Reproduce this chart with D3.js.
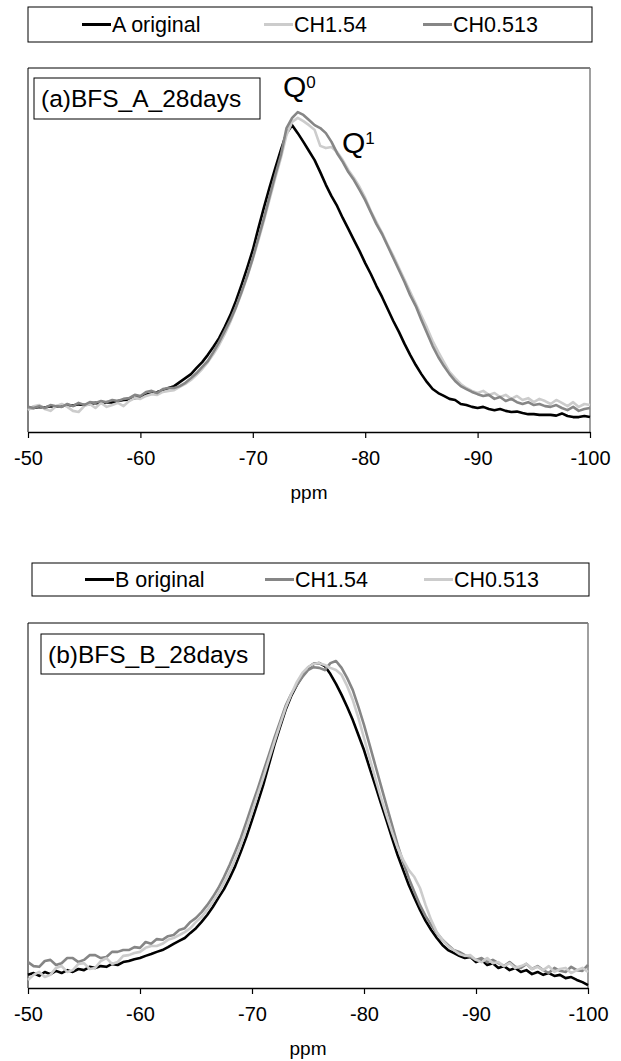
<!DOCTYPE html>
<html>
<head>
<meta charset="utf-8">
<script src="https://cdn.jsdelivr.net/npm/d3@7"></script>
<style>
  body { margin: 0; background: #fff; }
  svg { display: block; font-family: Arial, "Liberation Sans", sans-serif; }
</style>
</head>
<body>
<div id="container"></div>
<script>
/* DATA */
// chemical shift grid, -50 to -100 ppm every 0.5 ppm
const ppm = d3.range(-50, -100.25, -0.5);
const xTicks = [-50, -60, -70, -80, -90, -100];
const xTickLabels = ["-50", "-60", "-70", "-80", "-90", "-100"];

const namesA = ["A original", "CH1.54", "CH0.513"];
const namesB = ["B original", "CH1.54", "CH0.513"];

// panel (a), relative intensity
const aOriginal = [6.6,6.6,6.9,6.7,7.1,7.0,7.1,7.4,7.3,7.6,
  7.4,7.7,8.0,7.8,8.2,8.1,8.5,8.8,8.9,9.3,
  9.6,10.2,10.6,11.0,11.5,12.1,12.6,13.7,14.8,15.9,
  17.6,19.2,21.2,23.4,25.8,28.8,32.1,36.0,40.4,45.1,
  50.0,56.0,61.8,67.3,72.5,77.5,82.1,84.3,82.1,79.7,
  77.2,74.7,71.4,67.9,64.8,62.1,58.8,55.8,52.7,49.7,
  46.4,43.4,40.1,37.1,33.8,30.5,27.5,24.2,21.2,18.4,
  15.9,13.7,11.8,10.7,9.9,9.1,8.8,7.7,7.4,6.9,
  6.6,6.9,6.3,6.0,6.3,5.8,5.5,5.6,5.2,4.9,
  4.9,4.7,4.7,4.7,4.5,5.1,4.4,4.1,4.1,4.4,
  4.1];
const aCH154 = [6.0,7.1,7.4,6.3,5.8,7.1,7.7,6.9,5.8,5.5,
  7.1,7.7,6.6,8.0,6.9,7.4,8.0,7.1,8.5,9.3,
  9.1,9.9,10.4,10.2,11.0,11.3,11.5,12.4,13.2,14.3,
  15.7,17.3,19.2,21.4,23.9,26.9,30.2,34.1,38.2,42.6,
  47.5,52.7,58.2,64.0,69.8,75.3,81.6,85.2,86.3,85.4,
  84.3,83.0,78.6,78.0,78.3,76.9,74.7,72.0,69.8,67.3,
  64.3,60.7,57.7,54.7,51.4,48.4,45.1,41.8,38.5,35.2,
  31.9,28.6,25.0,22.0,19.2,16.5,14.8,13.2,12.1,11.3,
  10.7,11.3,10.2,10.7,9.6,10.2,9.1,9.9,8.8,9.3,
  8.2,9.1,8.5,7.7,8.8,8.0,7.1,8.2,6.9,7.7,
  7.4];
const aCH0513 = [6.9,6.6,7.1,6.6,7.4,7.1,6.9,7.7,7.1,8.0,
  7.4,8.2,8.0,8.5,8.2,8.8,8.5,9.1,9.3,10.2,
  9.9,11.0,11.3,10.7,11.8,12.1,12.1,12.6,13.5,14.8,
  16.2,17.9,19.5,22.0,24.7,27.7,30.8,34.3,38.5,42.9,
  47.8,53.3,58.8,64.8,70.6,76.1,83.5,86.3,87.9,87.1,
  85.7,84.3,83.5,82.1,79.7,76.6,74.2,71.4,69.2,66.5,
  63.7,60.4,57.1,54.4,51.1,47.8,44.5,41.2,37.6,34.6,
  30.8,27.2,23.6,20.6,18.1,15.9,14.0,12.6,11.8,11.0,
  10.4,9.9,10.2,9.1,9.6,8.5,9.1,8.2,7.7,8.2,
  7.4,7.7,7.1,6.9,7.4,6.6,6.0,6.9,5.8,6.3,
  6.6];

// panel (b), relative intensity
const bOriginal = [3.6,4.1,3.3,4.4,3.8,4.7,4.1,4.9,4.4,5.2,
  4.9,5.8,5.5,6.0,5.8,6.6,6.3,7.1,7.4,7.9,
  8.2,8.8,9.3,9.9,10.4,11.2,12.1,12.9,13.7,15.1,
  16.4,18.1,20.0,22.2,24.7,27.1,30.1,33.4,37.3,41.4,
  46.0,50.7,55.6,61.1,66.6,71.5,76.2,80.0,83.0,85.5,
  87.7,88.8,89.0,88.2,86.0,83.3,80.3,77.0,73.4,69.3,
  65.2,60.3,55.6,50.7,46.0,41.1,36.4,32.3,28.2,24.7,
  21.4,18.4,15.9,13.7,11.8,10.4,9.6,8.8,8.2,8.5,
  7.1,7.7,6.3,6.8,5.5,6.0,4.9,5.5,4.4,4.9,
  3.8,4.4,3.6,4.1,3.3,3.6,2.7,3.0,2.2,1.6,
  0.8];
const bCH154 = [7.1,6.0,5.8,7.4,7.7,6.3,6.8,8.2,8.2,7.1,
  7.7,9.0,9.0,8.2,8.5,9.9,9.9,10.4,10.4,11.2,
  11.0,12.6,12.1,13.4,13.2,14.2,14.5,15.9,16.4,18.1,
  19.2,20.8,22.7,24.9,27.4,30.4,33.7,37.3,41.1,45.5,
  50.1,54.5,59.2,63.8,68.5,72.9,77.3,80.5,83.0,85.2,
  87.1,87.9,87.7,87.1,89.0,89.6,87.7,84.9,81.6,77.0,
  72.1,66.6,61.1,55.6,50.1,44.7,39.2,34.5,30.1,26.3,
  22.7,19.7,17.3,15.1,13.2,11.8,10.4,9.9,9.0,8.5,
  7.7,8.2,7.1,7.7,6.8,6.0,7.1,5.8,5.5,6.6,
  5.2,6.0,4.9,4.1,5.5,4.7,4.4,5.8,4.9,4.7,
  6.3];
const bCH0513 = [2.2,3.6,4.4,3.0,3.6,5.5,6.0,4.4,4.9,6.6,
  6.8,5.2,5.5,7.4,8.2,6.6,7.1,8.8,9.0,9.6,
  9.9,11.0,11.5,11.5,12.1,13.2,13.7,14.5,15.3,16.4,
  18.1,19.5,21.4,23.6,26.0,28.8,31.8,35.3,39.2,43.6,
  48.2,52.9,57.5,62.5,67.4,72.1,76.7,80.5,83.8,86.3,
  87.9,88.8,89.0,88.5,87.7,87.1,85.8,82.7,78.9,74.0,
  68.5,63.0,57.5,52.3,47.4,42.7,38.4,35.1,32.3,30.4,
  27.4,22.7,18.6,15.3,13.2,11.5,10.4,9.3,8.8,9.0,
  7.7,7.1,8.2,6.8,7.1,6.0,6.8,5.5,6.0,6.6,
  5.2,5.8,4.9,6.0,4.4,5.2,5.5,4.1,4.9,5.5,
  4.4];

/* CONSTANTS AND GLOBALS */
const width = 621,
  height = 1061,
  black = "#000000",
  midGray = "#868686",
  lightGray = "#cccccc";

const panels = [
  {
    frame: { left: 28, right: 590, top: 68, bottom: 432 },
    legend: { x: 28, y: 7, w: 564, h: 35, lineX: [82, 264, 423] },
    label: { x: 34, y: 78, w: 226, h: 41, text: "(a)BFS_A_28days" },
    series: [
      { name: namesA[0], values: aOriginal, color: black },
      { name: namesA[1], values: aCH154, color: lightGray },
      { name: namesA[2], values: aCH0513, color: midGray }
    ],
    q: true
  },
  {
    frame: { left: 28, right: 588, top: 623, bottom: 988 },
    legend: { x: 32, y: 563, w: 557, h: 33, lineX: [85, 265, 424] },
    label: { x: 41, y: 634, w: 223, h: 40, text: "(b)BFS_B_28days" },
    series: [
      { name: namesB[0], values: bOriginal, color: black },
      { name: namesB[1], values: bCH154, color: midGray },
      { name: namesB[2], values: bCH0513, color: lightGray }
    ],
    q: false
  }
];

//CREATE SVG
const svg = d3.select("#container")
  .append("svg")
  .attr("width", width)
  .attr("height", height);

panels.forEach(p => {
  const f = p.frame;

  //SCALES
  const xScale = d3.scaleLinear()
    .domain([-50, -100])
    .range([f.left, f.right]);

  const yScale = d3.scaleLinear()
    .domain([0, 100])
    .range([f.bottom, f.top]);

  const g = svg.append("g");

  //LEGEND
  g.append("rect")
    .attr("x", p.legend.x)
    .attr("y", p.legend.y)
    .attr("width", p.legend.w)
    .attr("height", p.legend.h)
    .attr("fill", "#fff")
    .attr("stroke", "#000")
    .attr("stroke-width", 1);

  const midY = p.legend.y + p.legend.h / 2;
  p.series.forEach((s, i) => {
    const lx = p.legend.lineX[i];
    g.append("line")
      .attr("x1", lx)
      .attr("x2", lx + 29)
      .attr("y1", midY)
      .attr("y2", midY)
      .attr("stroke", s.color)
      .attr("stroke-width", 3);
    g.append("text")
      .attr("x", lx + 30)
      .attr("y", midY + 7.5)
      .style("font-size", "21.5px")
      .attr("fill", "#000")
      .text(s.name);
  });

  //PLOT FRAME
  g.append("line")
    .attr("x1", f.left).attr("x2", f.right)
    .attr("y1", f.top).attr("y2", f.top)
    .attr("stroke", "#000");
  g.append("line")
    .attr("x1", f.left).attr("x2", f.left)
    .attr("y1", f.top).attr("y2", f.bottom)
    .attr("stroke", "#000");
  g.append("line")
    .attr("x1", f.right).attr("x2", f.right)
    .attr("y1", f.top).attr("y2", f.bottom)
    .attr("stroke", "#808080")
    .attr("stroke-width", 1.5);

  //LINES (series order, later ones on top)
  const line = d3.line()
    .x((d, i) => xScale(ppm[i]))
    .y(d => yScale(d));

  p.series.forEach(s => {
    g.append("path")
      .datum(s.values)
      .attr("fill", "none")
      .attr("stroke", s.color)
      .attr("stroke-width", 2.6)
      .attr("stroke-linejoin", "round")
      .attr("d", line);
  });

  //X AXIS
  const xAxis = d3.axisBottom(xScale)
    .tickValues(xTicks)
    .tickFormat((d, i) => xTickLabels[i])
    .tickSize(6)
    .tickSizeOuter(0)
    .tickPadding(13);

  const ax = g.append("g")
    .attr("class", "axis")
    .attr("transform", `translate(0,${f.bottom})`)
    .call(xAxis);
  ax.select(".domain").attr("stroke", "#000").attr("stroke-width", 1.5);
  ax.selectAll(".tick line").attr("stroke", "#000").attr("stroke-width", 1.2);
  ax.selectAll(".tick text")
    .attr("fill", "#000")
    .style("font-family", 'Arial, "Liberation Sans", sans-serif')
    .style("font-size", "20px");

  //X LABEL
  g.append("text")
    .attr("x", (f.left + f.right) / 2)
    .attr("y", f.bottom + 67)
    .attr("text-anchor", "middle")
    .style("font-size", "19px")
    .text("ppm");

  //SAMPLE LABEL BOX
  g.append("rect")
    .attr("x", p.label.x)
    .attr("y", p.label.y)
    .attr("width", p.label.w)
    .attr("height", p.label.h)
    .attr("fill", "#fff")
    .attr("stroke", "#000");
  g.append("text")
    .attr("x", p.label.x + 7)
    .attr("y", p.label.y + 29)
    .style("font-size", "24.5px")
    .text(p.label.text);

  //Q LABELS
  if (p.q) {
    const q0 = g.append("text")
      .attr("x", 283).attr("y", 97)
      .style("font-size", "30px");
    q0.append("tspan").text("Q");
    q0.append("tspan").attr("dy", -9).style("font-size", "17px").text("0");

    const q1 = g.append("text")
      .attr("x", 342).attr("y", 153)
      .style("font-size", "30px");
    q1.append("tspan").text("Q");
    q1.append("tspan").attr("dy", -9).style("font-size", "17px").text("1");
  }
});
</script>
</body>
</html>
